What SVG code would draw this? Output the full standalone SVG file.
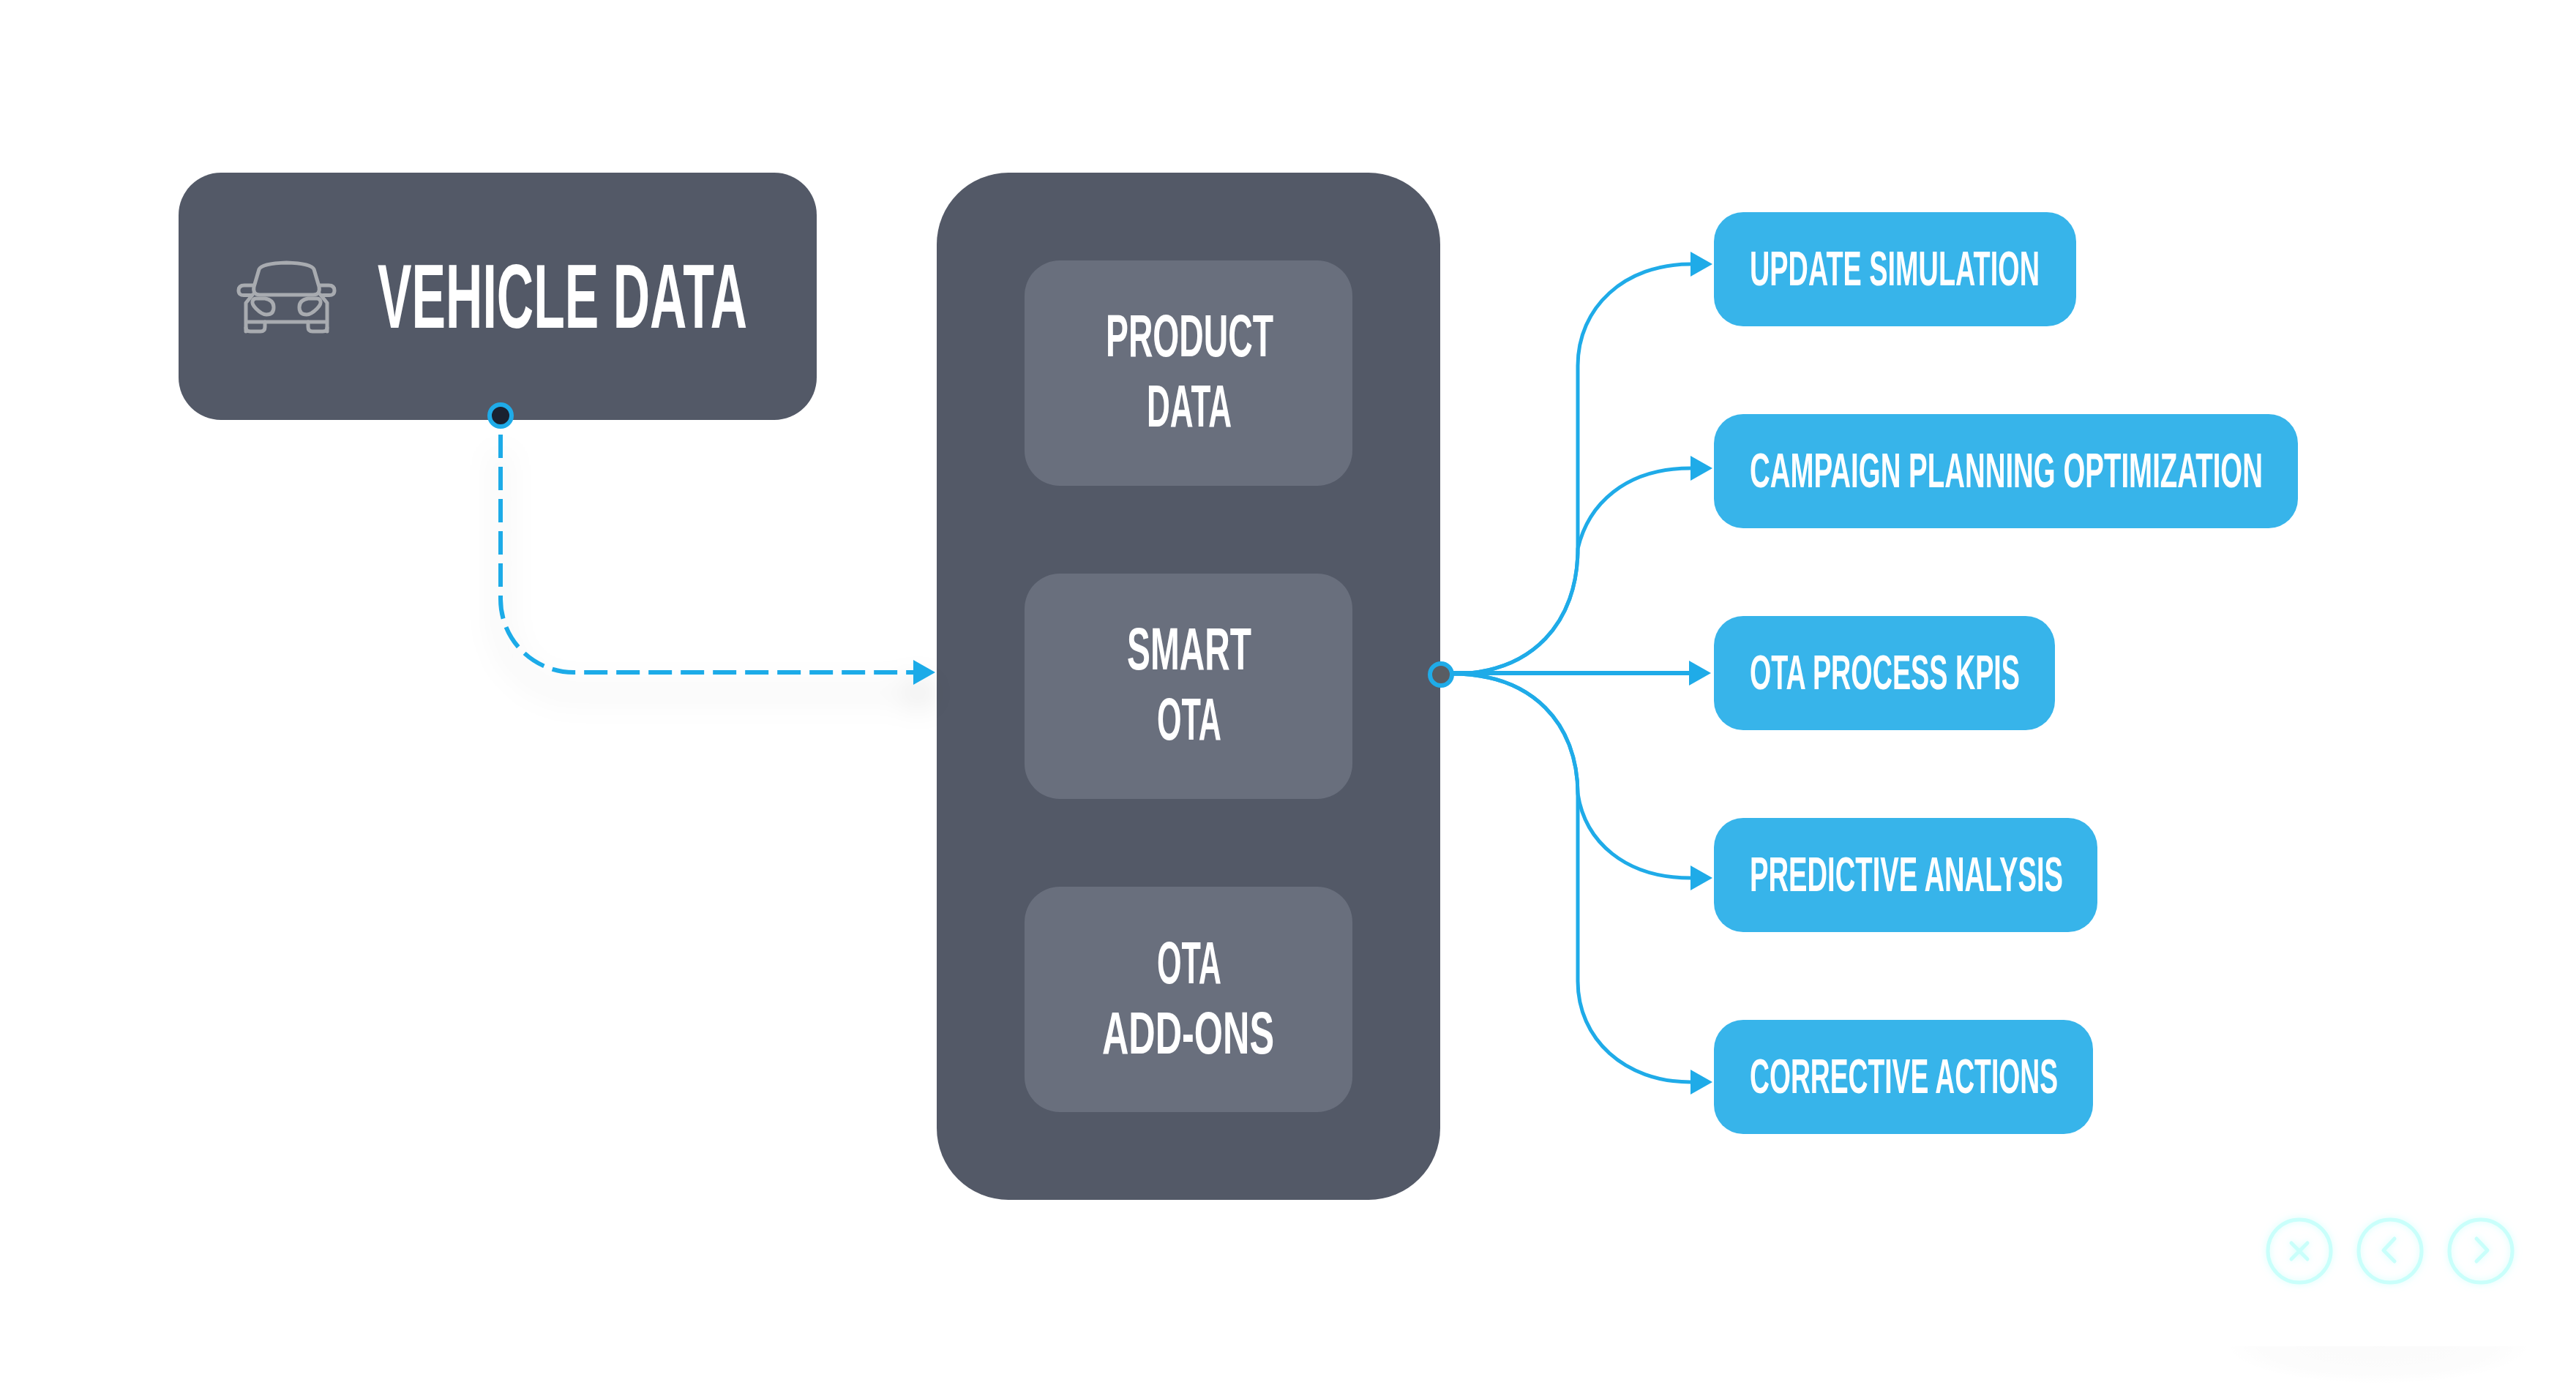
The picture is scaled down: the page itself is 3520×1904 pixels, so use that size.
<svg xmlns="http://www.w3.org/2000/svg" width="3520" height="1904" viewBox="0 0 3520 1904">
<style>
.t{font-family:"Liberation Sans Narrow","Liberation Sans",Arial,sans-serif;fill:#fff;font-weight:700}
.xl{font-size:125px}.m{font-size:81px}.s{font-size:67px}
.panel{fill:#535967}.inner{fill:#696f7d}.out{fill:#37b4ea}
.wire{fill:none;stroke:#1fabe8;stroke-width:5}
.car{fill:none;stroke:#a8abb0;stroke-width:5;stroke-linejoin:round;stroke-linecap:round}
.nav{fill:none;stroke:#c9fffb;stroke-width:5;stroke-linecap:round;stroke-linejoin:round}
</style>
<defs>
<marker id="a" markerUnits="userSpaceOnUse" markerWidth="30" markerHeight="34" refX="0" refY="17" orient="auto"><path d="M0 0L30 17L0 34Z" fill="#1fabe8"/></marker>
<filter id="sh" x="-30%" y="-30%" width="160%" height="160%"><feDropShadow dx="0" dy="28" stdDeviation="20" flood-color="#000" flood-opacity=".2"/></filter>
<filter id="glow" x="-30%" y="-30%" width="160%" height="160%"><feDropShadow dx="0" dy="0" stdDeviation="5" flood-color="#c9fffb" flood-opacity=".8"/></filter>
<radialGradient id="fade"><stop offset="0" stop-color="#000" stop-opacity=".018"/><stop offset=".75" stop-color="#000" stop-opacity=".012"/><stop offset="1" stop-color="#000" stop-opacity="0"/></radialGradient>
<clipPath id="cut"><rect x="3000" y="1840" width="520" height="64"/></clipPath>
</defs>
<rect width="3520" height="1904" fill="#fff"/>
<g id="vehicle-data">
<rect class="panel" x="244" y="236" width="872" height="338" rx="58"/>
<g class="car">
<path d="M347 392L354 368Q358 360 391.500 359Q425 360 429 368L436 392Q438 403 428 403H355Q345 403 347 392Z"/>
<path d="M346 390H334Q326 390 326 397Q326 404 334 403.500H342M437 390H449Q457 390 457 397Q457 404 449 403.500H441"/>
<path d="M345 403L336 414V453M438 403L447 414V453M336 440H447"/>
<path d="M336 448Q336 453 342 453H356Q362 453 362 447V440M447 448Q447 453 441 453H427Q421 453 421 447V440"/>
<path d="M350 408H362Q374 410 374 420Q374 430 364 430Q358 430 350 422Q344 416 345 412Q346 408 350 408Z"/>
<path d="M433 408H421Q409 410 409 420Q409 430 419 430Q425 430 433 422Q439 416 438 412Q437 408 433 408Z"/>
</g>
<text class="t xl" x="516" y="448" textLength="505" lengthAdjust="spacingAndGlyphs">VEHICLE DATA</text>
</g>
<g id="smart-ota-panel"><rect class="panel" x="1280" y="236" width="688" height="1404" rx="98"/></g>
<g id="product-data"><rect class="inner" x="1400" y="356" width="448" height="308" rx="48"/>
<text class="t m" x="1511" y="487" textLength="229" lengthAdjust="spacingAndGlyphs">PRODUCT</text>
<text class="t m" x="1567" y="583" textLength="116" lengthAdjust="spacingAndGlyphs">DATA</text></g>
<g id="smart-ota"><rect class="inner" x="1400" y="784" width="448" height="308" rx="48"/>
<text class="t m" x="1540" y="915" textLength="170" lengthAdjust="spacingAndGlyphs">SMART</text>
<text class="t m" x="1581" y="1011" textLength="88" lengthAdjust="spacingAndGlyphs">OTA</text></g>
<g id="ota-add-ons"><rect class="inner" x="1400" y="1212" width="448" height="308" rx="48"/>
<text class="t m" x="1581" y="1344" textLength="88" lengthAdjust="spacingAndGlyphs">OTA</text>
<text class="t m" x="1506" y="1440" textLength="235" lengthAdjust="spacingAndGlyphs">ADD-ONS</text></g>
<g id="update-simulation"><rect class="out" x="2342" y="290" width="495" height="156" rx="40"/>
<text class="t s" x="2391" y="390" textLength="396" lengthAdjust="spacingAndGlyphs">UPDATE SIMULATION</text></g>
<g id="campaign-planning"><rect class="out" x="2342" y="566" width="798" height="156" rx="40"/>
<text class="t s" x="2391" y="666" textLength="701" lengthAdjust="spacingAndGlyphs">CAMPAIGN PLANNING OPTIMIZATION</text></g>
<g id="ota-process-kpis"><rect class="out" x="2342" y="842" width="466" height="156" rx="40"/>
<text class="t s" x="2391" y="942" textLength="369" lengthAdjust="spacingAndGlyphs">OTA PROCESS KPIS</text></g>
<g id="predictive-analysis"><rect class="out" x="2342" y="1118" width="524" height="156" rx="40"/>
<text class="t s" x="2391" y="1218" textLength="428" lengthAdjust="spacingAndGlyphs">PREDICTIVE ANALYSIS</text></g>
<g id="corrective-actions"><rect class="out" x="2342" y="1394" width="518" height="156" rx="40"/>
<text class="t s" x="2391" y="1494" textLength="421" lengthAdjust="spacingAndGlyphs">CORRECTIVE ACTIONS</text></g>
<g id="connectors">
<g filter="url(#sh)"><path d="M684 594V819A100 100 0 0 0 784 919H1248" fill="none" stroke="#1fabe8" stroke-width="6" stroke-dasharray="32 12" marker-end="url(#a)"/></g>
<path class="wire" d="M1984 921C2095 921 2156 850 2156 750V500C2156 420 2220 361 2310 361" marker-end="url(#a)"/>
<path class="wire" d="M1984 921C2095 921 2156 850 2156 750C2170 690 2220 640 2310 640" marker-end="url(#a)"/>
<path class="wire" style="stroke-width:6" d="M1984 920H2308" marker-end="url(#a)"/>
<path class="wire" d="M1984 921C2095 921 2156 990 2156 1085C2166 1150 2220 1200 2310 1200" marker-end="url(#a)"/>
<path class="wire" d="M1984 921C2095 921 2156 990 2156 1085V1341C2156 1420 2220 1479 2310 1479" marker-end="url(#a)"/>
</g>
<g id="port-out"><circle cx="684" cy="568" r="15" fill="#1a2130" stroke="#1fabe8" stroke-width="6"/></g>
<g id="port-in"><circle cx="1969" cy="922" r="15" fill="#595d63" stroke="#1fabe8" stroke-width="6"/></g>
<g id="nav-shadow" clip-path="url(#cut)"><ellipse cx="3250" cy="1840" rx="210" ry="52" fill="url(#fade)"/></g>
<g id="nav-close" class="nav" filter="url(#glow)"><circle cx="3142" cy="1710" r="43"/><path d="M3131 1699L3153 1721M3153 1699L3131 1721"/></g>
<g id="nav-prev" class="nav" filter="url(#glow)"><circle cx="3266" cy="1710" r="43"/><path d="M3272 1693L3257 1709L3272 1724"/></g>
<g id="nav-next" class="nav" filter="url(#glow)"><circle cx="3390" cy="1710" r="43"/><path d="M3384 1693L3399 1709L3384 1724"/></g>
</svg>
